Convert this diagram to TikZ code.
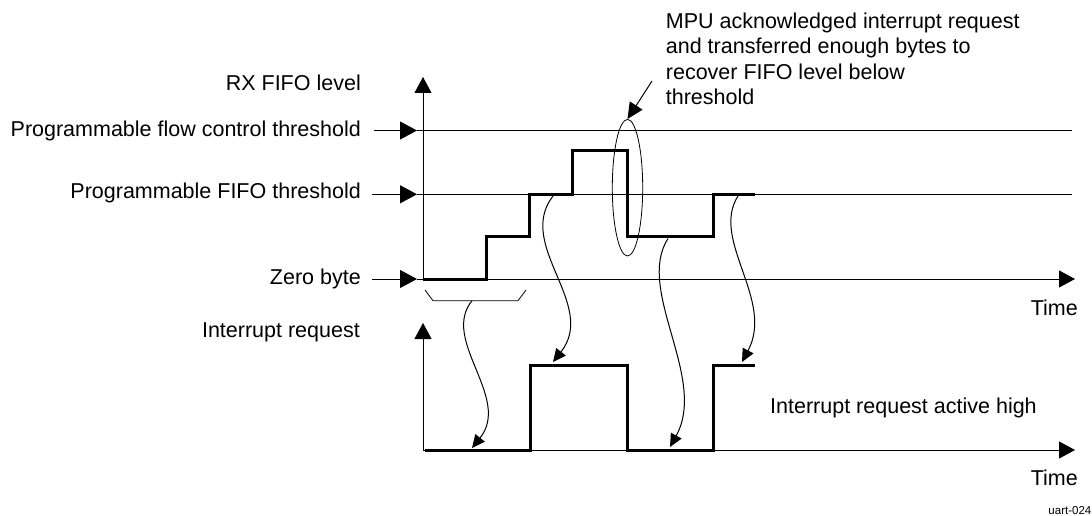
\documentclass[tikz,border=0pt]{standalone}
\usepackage{fontspec}
\setmainfont{Liberation Sans}
\usetikzlibrary{arrows.meta,shapes.geometric}
\begin{document}
\begin{tikzpicture}[x=1pt,y=-1pt,
  lbl/.style={font=\fontsize{21.5}{25.3}\selectfont, inner sep=0pt},
  hair/.style={line width=1pt, black},
  sig/.style={line width=3pt, black, line join=miter},
  axtip/.style={-{Triangle[length=16pt,width=17pt]}},
  thtip/.style={-{Triangle[length=17pt,width=18pt]}},
  cvtip/.style={-{Triangle[length=13pt,width=12pt]}},
  ptip/.style={-{Triangle[length=16pt,width=15pt]}},
]
\useasboundingbox (0,0) rectangle (1092,516);

% ---- labels
\node[lbl, anchor=base east] (rx) at (361,90.7) {RX FIFO level};
\node[lbl, anchor=base east] (fc) at (361,136.7) {Programmable flow control threshold};
\node[lbl, anchor=base east] (ft) at (361,198.3) {Programmable FIFO threshold};
\node[lbl, anchor=base east] (zb) at (361,284) {Zero byte};
\node[lbl, anchor=base east] (ir) at (360,337.3) {Interrupt request};
\node[lbl, anchor=base east] (t1) at (1078,315) {Time};
\node[lbl, anchor=base east] (t2) at (1078,485.7) {Time};
\node[lbl, anchor=base west] (act) at (770,413) {Interrupt request active high};
\node[lbl, align=left, anchor=north west] (mpu) at (665.7,12.8)
  {MPU acknowledged interrupt request\\and transferred enough bytes to\\recover FIFO level below\\threshold};
\node[font=\fontsize{11.5}{13}\selectfont, inner sep=0pt, anchor=base east] (fig) at (1091.5,514) {uart-024};

% ---- coordinates
\coordinate (fcL) at (374,130.5);  \coordinate (fcT) at (417,130.5);  \coordinate (fcR) at (1072,130.5);
\coordinate (ftL) at (372,194.3);  \coordinate (ftT) at (417,194.3);  \coordinate (ftR) at (1072,194.3);
\coordinate (zbL) at (372,279);    \coordinate (zbT) at (417,279);    \coordinate (zbR) at (1075,279);
\coordinate (y1o) at (423,279);    \coordinate (y1t) at (423,77);
\coordinate (y2o) at (423,451);    \coordinate (y2t) at (423,323);
\coordinate (x2o) at (423,450);    \coordinate (x2t) at (1075,450);

% ---- threshold lines and axes
\draw[hair, thtip] (fcL) -- (fcT);
\draw[hair] (fcT) -- (fcR);
\draw[hair, thtip] (ftL) -- (ftT);
\draw[hair] (ftT) -- (ftR);
\draw[hair, thtip] (zbL) -- (zbT);
\draw[hair, axtip] (zbT) -- (zbR);
\draw[hair, axtip] (y1o) -- (y1t);
\draw[hair, axtip] (y2o) -- (y2t);
\draw[hair, axtip] (x2o) -- (x2t);

% ---- FIFO level signal
\draw[sig] (423,279) -- (486,279) -- (486,236.7) -- (529,236.7) -- (529,194) -- (572,194)
  -- (572,150.5) -- (627,150.5) -- (627,236.7) -- (713,236.7) -- (713,194) -- (755,194);

% ---- interrupt signal
\draw[sig] (425,450) -- (530,450) -- (530,365) -- (627,365) -- (627,450) -- (713,450)
  -- (713,365) -- (755,365);

% ---- bracket under zero-byte period
\coordinate (br1) at (425,290); \coordinate (br2) at (433,300.7);
\coordinate (br3) at (518,300.7); \coordinate (br4) at (526,290);
\draw[hair, line width=0.8pt] (br1) -- (br2) -- (br3) -- (br4);

% ---- ellipse and pointer
\node[draw, hair, line width=0.8pt, ellipse, minimum width=30.4pt, minimum height=136.6pt, inner sep=0pt] (ell) at (627.5,187.7) {};
\coordinate (mpuA) at (652,81);
\draw[hair, ptip] (mpuA) -- (ell.north);

% ---- causal curves
\coordinate (c1a) at (472,300.7); \coordinate (c1b) at (472,448);
\coordinate (c2a) at (553,196);   \coordinate (c2b) at (553,362);
\coordinate (c3a) at (668,238.5); \coordinate (c3b) at (670,447);
\coordinate (c4a) at (738,196);   \coordinate (c4b) at (742,362);
\draw[hair, cvtip] (c1a) .. controls (440,340) and (512,398) .. (c1b);
\draw[hair, cvtip] (c2a) .. controls (515,245) and (598,305) .. (c2b);
\draw[hair, cvtip] (c3a) .. controls (635,290) and (708,378) .. (c3b);
\draw[hair, cvtip] (c4a) .. controls (710,240) and (775,300) .. (c4b);
\end{tikzpicture}
\end{document}
